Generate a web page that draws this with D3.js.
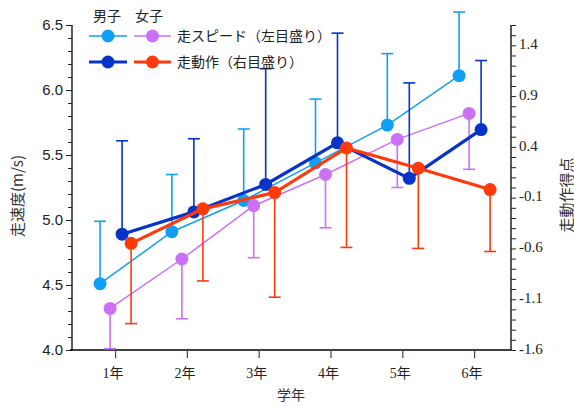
<!DOCTYPE html>
<html>
<head>
<meta charset="utf-8">
<script src="https://cdn.jsdelivr.net/npm/d3@7"></script>
<style>
  body { margin: 0; background: #fff; }
  svg { display: block; }
  .jp { font-family: "Noto Sans CJK JP", sans-serif; }
</style>
</head>
<body>
<div id="chart"></div>
<script>
// Data
const grades = ['1年', '2年', '3年', '4年', '5年', '6年'];
const boySpeed = [4.51, 4.91, 5.15, 5.44, 5.73, 6.11];
const boySpeedSd = [0.48, 0.44, 0.55, 0.49, 0.55, 0.49];
const girlSpeed = [4.32, 4.70, 5.11, 5.35, 5.62, 5.82];
const girlSpeedSd = [0.31, 0.46, 0.40, 0.41, 0.37, 0.43];
const boyMotion = [-0.46, -0.24, 0.03, 0.44, 0.09, 0.57];
const boyMotionSd = [0.92, 0.72, 1.14, 1.08, 0.94, 0.68];
const girlMotion = [-0.55, -0.21, -0.05, 0.39, 0.19, -0.02];
const girlMotionSd = [0.79, 0.71, 1.03, 0.98, 0.79, 0.61];
const leftTicks = [4.0, 4.5, 5.0, 5.5, 6.0, 6.5];
const rightTicks = [-1.6, -1.1, -0.6, -0.1, 0.4, 0.9, 1.4];

const W = 574;
const H = 406;
const LEFT = 72;
const RIGHT = 510;
const TOP = 25;
const BOTTOM = 350;

const svg = d3.select('#chart').append('svg').attr('width', W).attr('height', H);

// Scales
const x = d3.scaleLinear([0.4, 6.5], [LEFT, RIGHT]);
const yL = d3.scaleLinear([4.0, 6.5], [BOTTOM, TOP]);
const yR = d3.scaleLinear([-1.6, 1.6], [BOTTOM, TOP]);

// Series setup
const series = [
  { vals: boySpeed, sd: boySpeedSd, y: yL, color: '#119ff5', width: 1.5, dx: -15, dir: 1 },
  { vals: girlSpeed, sd: girlSpeedSd, y: yL, color: '#cc70f8', width: 1.5, dx: -5, dir: -1 },
  { vals: boyMotion, sd: boyMotionSd, y: yR, color: '#0633c8', width: 3.2, dx: 7, dir: 1 },
  { vals: girlMotion, sd: girlMotionSd, y: yR, color: '#ff3a0a', width: 3.2, dx: 16, dir: -1 },
];

// Axes
const numFont = '"Liberation Sans", Arial, sans-serif';
const serifFont = '"Liberation Serif", "Times New Roman", serif';

const leftAxis = svg.append('g').attr('transform', `translate(${LEFT},0)`)
  .call(d3.axisLeft(yL).tickValues(d3.range(40, 66, 1).map((d) => d / 10)).tickSize(4).tickFormat(''));
leftAxis.selectAll('.tick line').filter((d) => leftTicks.some((t) => Math.abs(t - d) < 1e-6)).attr('x2', -6);
leftAxis.select('.domain').attr('d', `M0,${TOP}V${BOTTOM}`).attr('stroke-width', 1.3);
leftAxis.selectAll('.tick line').attr('stroke', '#222');
svg.append('g').selectAll('text').data(leftTicks).join('text')
  .attr('x', LEFT - 9).attr('y', (d) => yL(d)).attr('dy', '0.35em')
  .attr('text-anchor', 'end').attr('font-family', numFont).attr('font-size', 15).attr('fill', '#222')
  .text((d) => d.toFixed(1));

const rightAxis = svg.append('g').attr('transform', `translate(${RIGHT + 1},0)`)
  .call(d3.axisRight(yR).tickValues(d3.range(-16, 17, 1).map((d) => d / 10)).tickSize(5).tickFormat(''));
rightAxis.select('.domain').attr('d', `M0,${TOP}V${BOTTOM}`).attr('stroke-width', 1.3);
rightAxis.selectAll('.tick line').attr('stroke', '#222');
svg.append('g').selectAll('text').data(rightTicks).join('text')
  .attr('x', RIGHT + 9).attr('y', (d) => yR(d) - 1.5).attr('dy', '0.35em')
  .attr('font-family', serifFont).attr('font-size', 15).attr('fill', '#222')
  .text((d) => d.toFixed(1));

const bottomAxis = svg.append('g').attr('transform', `translate(0,${BOTTOM})`)
  .call(d3.axisBottom(x).tickValues([1, 2, 3, 4, 5, 6]).tickSize(8).tickFormat(''));
bottomAxis.select('.domain').attr('d', `M${LEFT - 2},0H${RIGHT + 1}`).attr('stroke-width', 1.3);
bottomAxis.selectAll('.tick line').attr('stroke', '#444').attr('stroke-width', 1.2);
svg.append('g').selectAll('text').data(grades).join('text')
  .attr('x', (d, i) => x(i + 1) - 2).attr('y', BOTTOM + 28)
  .attr('text-anchor', 'middle').attr('font-size', 14).attr('fill', '#222')
  .attr('font-family', '"Liberation Serif", "Noto Sans CJK JP", serif')
  .text((d) => d);

// Axis titles
svg.append('text').attr('class', 'jp').attr('x', (LEFT + RIGHT) / 2).attr('y', 400)
  .attr('text-anchor', 'middle').attr('font-size', 14).attr('fill', '#333').text('学年');
svg.append('text').attr('class', 'jp').attr('transform', 'translate(23,196) rotate(-90)')
  .attr('text-anchor', 'middle').attr('font-size', 15).attr('fill', '#333').text('走速度(m/s)');
svg.append('text').attr('class', 'jp').attr('transform', 'translate(572,195) rotate(-90)')
  .attr('text-anchor', 'middle').attr('font-size', 15).attr('fill', '#333').text('走動作得点');

// Series marks
series.forEach((s) => {
  const g = svg.append('g');
  const px = (i) => x(i + 1) + s.dx;
  // error bars (one side only)
  s.vals.forEach((v, i) => {
    const end = s.y(v + s.dir * s.sd[i]);
    g.append('line').attr('x1', px(i)).attr('x2', px(i)).attr('y1', s.y(v)).attr('y2', end)
      .attr('stroke', s.color).attr('stroke-width', 1.6);
    g.append('line').attr('x1', px(i) - 6).attr('x2', px(i) + 6).attr('y1', end).attr('y2', end)
      .attr('stroke', s.color).attr('stroke-width', 1.6);
  });
  g.append('path').datum(s.vals)
    .attr('d', d3.line().x((d, i) => px(i)).y((d) => s.y(d)))
    .attr('fill', 'none').attr('stroke', s.color).attr('stroke-width', s.width);
  g.selectAll('circle').data(s.vals).join('circle')
    .attr('cx', (d, i) => px(i)).attr('cy', (d) => s.y(d)).attr('r', 6.5)
    .attr('fill', s.color);
});

// Legend
const legend = svg.append('g');
legend.append('text').attr('class', 'jp').attr('x', 93).attr('y', 21).attr('font-size', 14).attr('fill', '#222').text('男子');
legend.append('text').attr('class', 'jp').attr('x', 135).attr('y', 21).attr('font-size', 14).attr('fill', '#222').text('女子');
const rows = [
  { a: series[0], b: series[1], label: '走スピード（左目盛り）', y: 36 },
  { a: series[2], b: series[3], label: '走動作（右目盛り）', y: 62 },
];
rows.forEach((r) => {
  [[r.a, 89, 127], [r.b, 134, 171]].forEach(([s, x1, x2]) => {
    legend.append('line').attr('x1', x1).attr('x2', x2).attr('y1', r.y).attr('y2', r.y)
      .attr('stroke', s.color).attr('stroke-width', s.width);
    legend.append('circle').attr('cx', (x1 + x2) / 2).attr('cy', r.y).attr('r', 6.5).attr('fill', s.color);
  });
  legend.append('text').attr('class', 'jp').attr('x', 177).attr('y', r.y + 5)
    .attr('font-size', 14).attr('fill', '#222').text(r.label);
});
</script>
</body>
</html>
